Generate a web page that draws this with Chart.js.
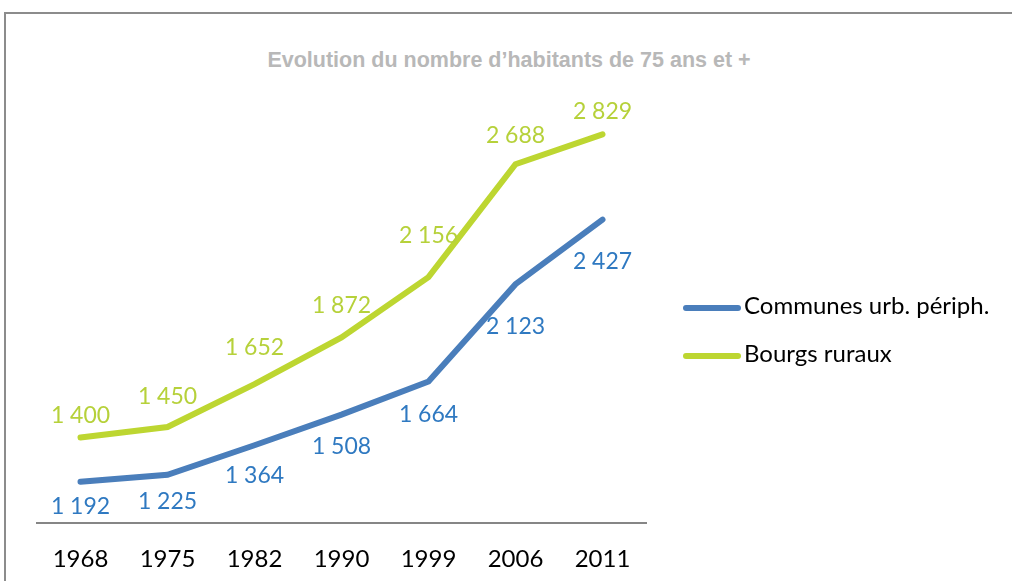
<!DOCTYPE html>
<html>
<head>
<meta charset="utf-8">
<script src="https://cdn.jsdelivr.net/npm/chart.js@4/dist/chart.umd.min.js"></script>
<style>
  html, body { margin: 0; padding: 0; background: #fff; overflow: hidden; }
  #wrap { position: relative; width: 1012px; height: 581px; overflow: hidden; }
  #frame { position: absolute; left: 4px; top: 12px; width: 2000px; height: 2000px;
           border-top: 2px solid #8c8c8c; border-left: 2px solid #8c8c8c; }
  #title { position: absolute; left: 0; top: 47px; width: 1018px; text-align: center;
           font: bold 21.5px "Liberation Sans Narrow", sans-serif; color: #b8b8b8; line-height: 26px; }
  canvas { position: absolute; left: 0; top: 0; }
  .leg { position: absolute; left: 683px; font: 24px Lato, sans-serif; color: #000; white-space: nowrap; }
  .leg span.line { display: inline-block; width: 58px; height: 6px; border-radius: 3px;
                   vertical-align: middle; margin-right: 3px; }
</style>
</head>
<body>
<div id="wrap">
  <div id="frame"></div>
  <div id="title">Evolution du nombre d’habitants de 75 ans et +</div>
  <canvas id="chart" width="1012" height="600"></canvas>
  <div class="leg" style="top:290px"><span class="line" style="background:#4a7ebb"></span>Communes urb. périph.</div>
  <div class="leg" style="top:338px"><span class="line" style="background:#bdd631"></span>Bourgs ruraux</div>
</div>
<script>
// data
const years = ['1968', '1975', '1982', '1990', '1999', '2006', '2011'];
const communesUrb = [1192, 1225, 1364, 1508, 1664, 2123, 2427];
const bourgsRuraux = [1400, 1450, 1652, 1872, 2156, 2688, 2829];

// label offsets from each point (px), as placed in the original
const blueLabelShift = [25, 27, 30, 32, 33, 42, 42];
const greenLabelShift = [-22, -30, -37, -32, -42, -29, -23];

function fmt(v) {
    return String(v).replace(/\B(?=(\d{3})+(?!\d))/g, ' ');
}

// draws the value labels next to each point
const valueLabels = {
    id: 'valueLabels',
    afterDatasetsDraw(chart) {
        const ctx = chart.ctx;
        ctx.save();
        ctx.font = '23px Lato, sans-serif';
        ctx.textAlign = 'center';
        ctx.textBaseline = 'middle';
        chart.data.datasets.forEach((ds, i) => {
            const meta = chart.getDatasetMeta(i);
            ctx.fillStyle = ds.labelColor;
            meta.data.forEach((pt, j) => {
                ctx.fillText(fmt(ds.data[j]), pt.x, pt.y + ds.labelShift[j]);
            });
        });
        ctx.restore();
    }
};

new Chart(document.getElementById('chart'), {
    type: 'line',
    data: {
        labels: years,
        datasets: [
            {
                label: 'Communes urb. périph.',
                data: communesUrb,
                borderColor: '#4a7ebb',
                borderWidth: 6,
                borderCapStyle: 'round',
                pointRadius: 0,
                tension: 0,
                labelColor: '#2f79c1',
                labelShift: blueLabelShift
            },
            {
                label: 'Bourgs ruraux',
                data: bourgsRuraux,
                borderColor: '#bdd631',
                borderWidth: 6,
                borderCapStyle: 'round',
                pointRadius: 0,
                tension: 0,
                labelColor: '#b6d13a',
                labelShift: greenLabelShift
            }
        ]
    },
    options: {
        responsive: false,
        animation: false,
        layout: { padding: { left: 37, right: 366, top: 98, bottom: 4.7 } },
        plugins: {
            legend: { display: false },
            title: { display: false },
            tooltip: { enabled: false }
        },
        scales: {
            x: {
                offset: true,
                grid: { display: false, drawTicks: false },
                border: { display: true, color: '#868686', width: 2 },
                ticks: { color: '#000', font: { family: 'Lato', size: 24 }, padding: 22 }
            },
            y: {
                display: false,
                min: 1000,
                max: 3000
            }
        }
    },
    plugins: [valueLabels]
});
</script>
</body>
</html>
